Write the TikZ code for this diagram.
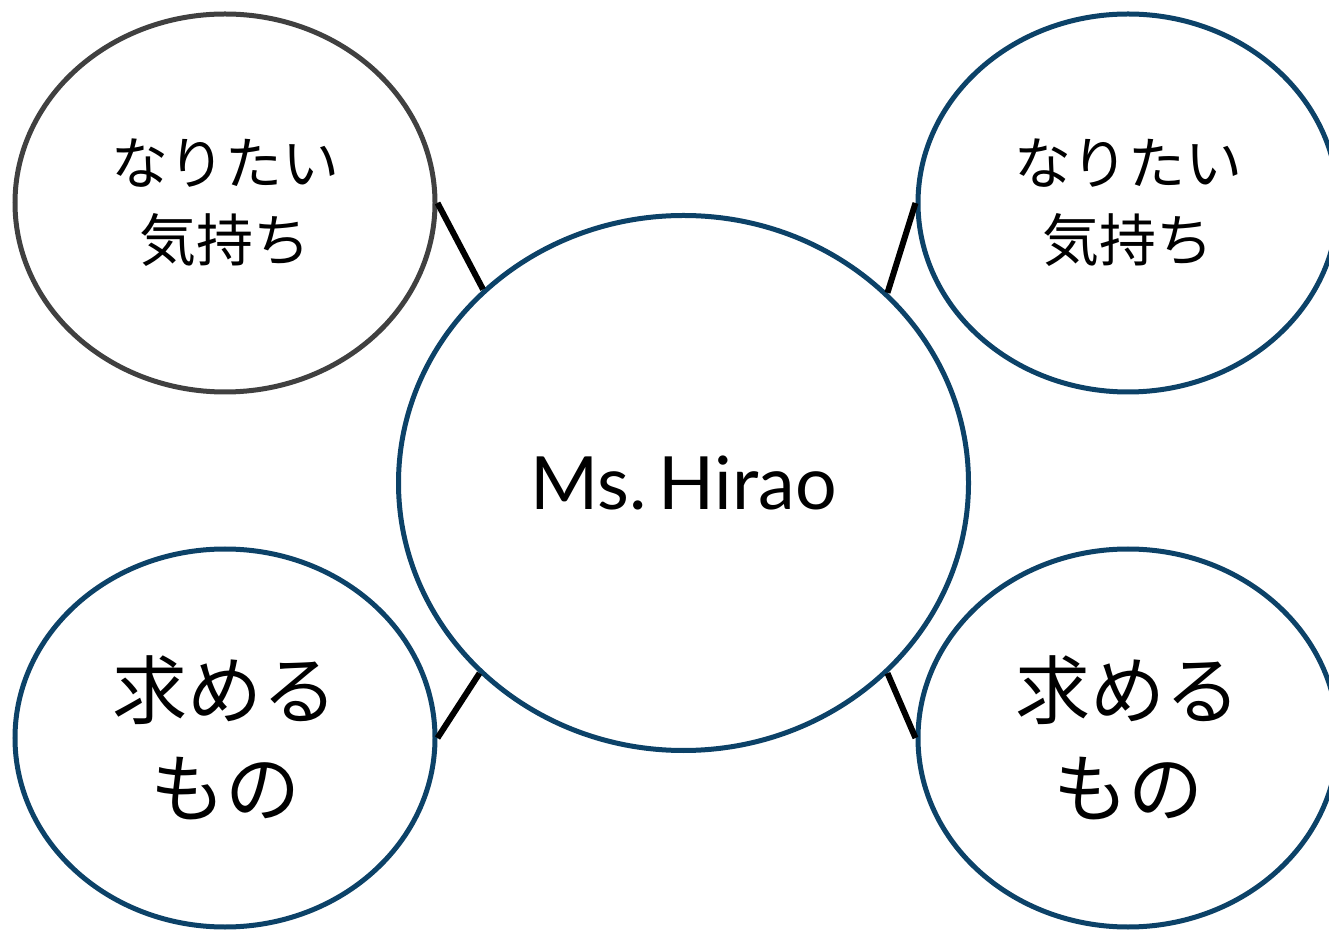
\documentclass[tikz,border=0pt]{standalone}
\usepackage{fontspec}
\setmainfont{Lato}
\newfontfamily\jp{Noto Sans CJK JP}
\usetikzlibrary{shapes.geometric}
\definecolor{hblue}{RGB}{12,66,104}
\definecolor{hgray}{RGB}{64,64,64}
\begin{document}
\begin{tikzpicture}[x=1pt,y=1pt,
  bubble/.style={ellipse,draw=hblue,line width=5pt,minimum width=420pt,minimum height=378pt,inner sep=0pt,align=center},
  link/.style={draw=black,line width=6pt},
  jpA/.style={font=\jp\fontsize{57}{77}\selectfont},
  jpB/.style={font=\jp\fontsize{75}{98}\selectfont}]
\useasboundingbox (0,0) rectangle (1329,929);
\node[bubble,minimum width=570pt,minimum height=535pt,font=\fontsize{73.5}{80}\selectfont] (c) at (683.5,446) {Ms.\,Hirao};
\node[bubble,draw=hgray,jpA] (tl) at (225,726) {なりたい\\気持ち};
\node[bubble,jpA] (tr) at (1128,726) {なりたい\\気持ち};
\node[bubble,jpB] (bl) at (225,191) {求める\\もの};
\node[bubble,jpB] (br) at (1128,191) {求める\\もの};
\draw[link] (tl.east) -- (c.136.6);
\draw[link] (tr.west) -- (c.43.4);
\draw[link] (bl.east) -- (c.223.4);
\draw[link] (br.west) -- (c.-43.4);
\end{tikzpicture}
\end{document}
